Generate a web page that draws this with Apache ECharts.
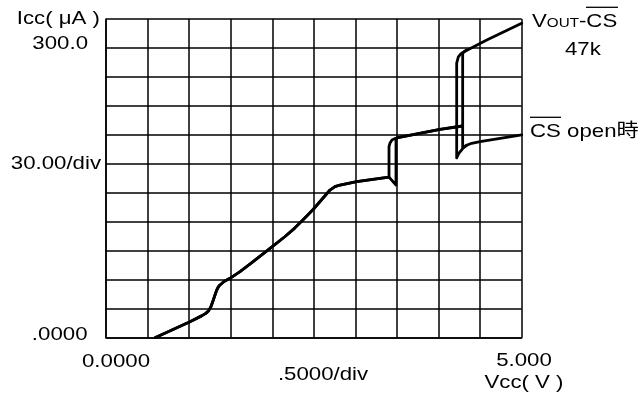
<!DOCTYPE html>
<html>
<head>
<meta charset="utf-8">
<script src="https://cdn.jsdelivr.net/npm/echarts@6/dist/echarts.min.js"></script>
<style>
  html, body { margin: 0; padding: 0; background: #fff; }
  #chart { width: 643px; height: 399px; }
</style>
</head>
<body>
<div id="chart"></div>
<script>
// Supply current Icc (µA) against supply voltage Vcc (V)

// Shared rising part of both traces
const rampV = [0.589, 1.010, 1.150, 1.200, 1.235, 1.262, 1.291, 1.312, 1.332, 1.351, 1.371, 1.420, 1.491, 1.612, 1.750, 2.000, 2.150, 2.270, 2.380, 2.494, 2.694, 2.754, 2.815, 3.015, 3.404];
const rampI = [0, 16.6, 22.6, 25.2, 28.0, 32.0, 39.0, 44.5, 49.4, 52.5, 54.6, 58.2, 61.5, 68.5, 77.5, 94.2, 104.5, 113.5, 123.0, 133.0, 152.9, 156.4, 158.1, 161.5, 166.3];

// VOUT-CS 47k: first step straight up, second step jumps to the upper branch
const k47V = [3.404, 3.416, 3.440, 3.476, 3.520, 4.017, 4.290, 4.290, 4.318, 4.338, 4.580, 5.000];
const k47I = [197.8, 201.5, 204.8, 206.3, 207.5, 215.8, 219.2, 294.5, 296.6, 297.9, 308.2, 325.6];

// CS open: dips before the first step, drops to the lower branch at the second
const openV = [3.488, 3.488, 3.500, 3.520, 4.017, 4.290, 4.290, 4.338, 4.398, 4.499, 5.000];
const openI = [158.1, 204.5, 206.8, 207.5, 215.8, 219.2, 197.0, 199.2, 201.3, 203.0, 209.9];

// Return sweep closing the loop at the second step
const loopV = [4.338, 4.318, 4.270, 4.238, 4.218, 4.218, 4.230, 4.246, 4.290, 4.338];
const loopI = [297.9, 296.1, 294.1, 290.7, 284.4, 186.1, 188.5, 191.2, 195.9, 199.2];

// Axis ranges
const xMin = 0, xMax = 5, xStep = 0.5;
const yMin = 0, yMax = 330, yStep = 30;

const pairs = (vs, is) => vs.map((v, k) => [v, is[k]]);

const FONT = '"Liberation Sans", Arial, "Noto Sans CJK JP", sans-serif';
const SX = 1.17;

function label(text, x, y, align, extra) {
  return {
    type: 'text', x: x, y: y, scaleX: SX, silent: true,
    style: Object.assign({
      text: text, fill: '#000', font: '19px ' + FONT,
      align: align, verticalAlign: 'middle'
    }, extra || {})
  };
}

function overline(x1, x2, y) {
  return {
    type: 'line', silent: true,
    shape: { x1: x1, y1: y, x2: x2, y2: y },
    style: { stroke: '#000', lineWidth: 1.3 }
  };
}

const lineStyle = { color: '#000', width: 2.8, join: 'round', cap: 'round' };

const chart = echarts.init(document.getElementById('chart'), null, { renderer: 'canvas' });
chart.setOption({
  animation: false,
  backgroundColor: '#fff',
  grid: { left: 106, top: 19, right: 121.3, bottom: 61.3, containLabel: false },
  xAxis: {
    type: 'value', min: xMin, max: xMax, interval: xStep,
    axisLine: { show: true, lineStyle: { color: '#000', width: 1.5 } },
    axisTick: { show: false }, axisLabel: { show: false },
    splitLine: { show: true, lineStyle: { color: '#000', width: 1.5 } }
  },
  yAxis: {
    type: 'value', min: yMin, max: yMax, interval: yStep,
    axisLine: { show: true, lineStyle: { color: '#000', width: 1.5 } },
    axisTick: { show: false }, axisLabel: { show: false },
    splitLine: { show: true, lineStyle: { color: '#000', width: 1.5 } }
  },
  series: [
    {
      name: 'VOUT-CS 47k', type: 'line', showSymbol: false, smooth: false,
      data: pairs(rampV.concat(k47V), rampI.concat(k47I)), lineStyle: lineStyle, z: 3
    },
    {
      name: 'CS open', type: 'line', showSymbol: false, smooth: false,
      data: pairs(rampV.concat(openV), rampI.concat(openI)), lineStyle: lineStyle, z: 3
    },
    {
      name: 'return', type: 'line', showSymbol: false, smooth: false,
      data: pairs(loopV, loopI), lineStyle: lineStyle, z: 3
    }
  ],
  graphic: [
    label('Icc( μA )', 100, 19, 'right'),
    label('300.0', 88, 43.5, 'right'),
    label('30.00/div', 101, 164, 'right'),
    label('.0000', 87.5, 335, 'right'),
    label('0.0000', 116, 361.5, 'center'),
    label('.5000/div', 323, 375, 'center'),
    label('5.000', 524, 361, 'center'),
    label('Vcc( V )', 524, 383, 'center'),
    label('{v|V}{o|OUT}{r|-CS}', 532, 22, 'left', {
      rich: {
        v: { font: '19px ' + FONT, fill: '#000' },
        o: { font: '13px ' + FONT, fill: '#000', padding: [3, 0, 0, 0] },
        r: { font: '19px ' + FONT, fill: '#000' }
      }
    }),
    overline(586, 618, 7.3),
    label('47k', 565, 50, 'left'),
    label('CS open時', 530, 132, 'left'),
    overline(530, 561, 117.3)
  ]
});
</script>
</body>
</html>
